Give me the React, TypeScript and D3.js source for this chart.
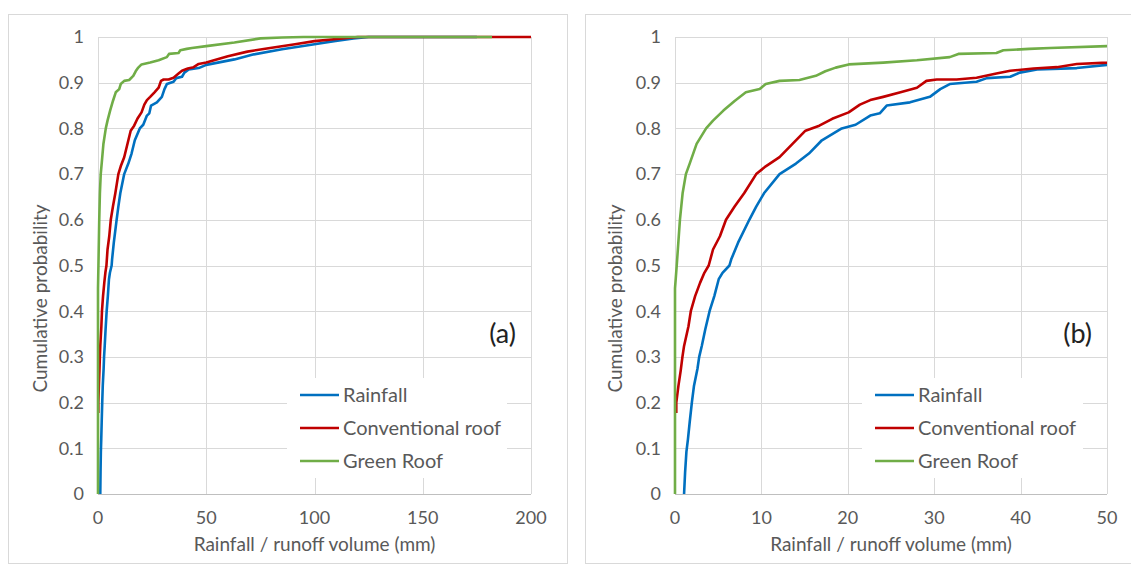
import React from "react";
import * as d3 from "d3";

// ---- data ----
const rainfallX = [1.05, 1.17, 1.32, 1.5, 1.7, 1.95, 2.2, 2.6, 2.8, 3.1, 3.5, 4.0, 4.55, 5.06, 5.5, 6.3, 6.5, 7.3, 8.6, 9.4, 10.3, 12.1, 14.0, 15.5, 17.0, 19.3, 20.9, 22.6, 23.7, 24.5, 27.2, 29.5, 30.7, 31.8, 34.9, 36.1, 38.8, 39.9, 41.9, 46.5, 50, 63, 72, 85, 100, 109, 118, 125, 175];
const rainfallP = [0, 0.048, 0.092, 0.12, 0.157, 0.2, 0.237, 0.274, 0.3, 0.324, 0.36, 0.4, 0.433, 0.47, 0.484, 0.5, 0.513, 0.55, 0.6, 0.629, 0.658, 0.7, 0.723, 0.745, 0.774, 0.8, 0.808, 0.828, 0.833, 0.85, 0.857, 0.869, 0.886, 0.897, 0.902, 0.91, 0.913, 0.922, 0.929, 0.932, 0.939, 0.951, 0.962, 0.973, 0.984, 0.991, 0.997, 1, 1];

const conventionalX = [0.15, 0.15, 0.4, 0.66, 0.86, 1.05, 1.56, 1.83, 2.33, 2.9, 3.4, 3.9, 4.4, 5.2, 5.9, 6.9, 8.0, 9.4, 10.5, 12.1, 13.6, 15.1, 16.7, 18.2, 20.1, 21.4, 22.6, 24.1, 26.1, 28, 29.1, 30.3, 32.6, 34.9, 37.2, 38.8, 41.5, 44.2, 46.5, 50, 60, 69, 78, 91, 100, 109, 120, 200];
const conventionalP = [0.177, 0.2, 0.237, 0.27, 0.3, 0.324, 0.367, 0.4, 0.433, 0.462, 0.484, 0.5, 0.535, 0.564, 0.6, 0.629, 0.658, 0.7, 0.717, 0.737, 0.766, 0.795, 0.806, 0.821, 0.835, 0.852, 0.862, 0.869, 0.879, 0.889, 0.904, 0.907, 0.907, 0.911, 0.92, 0.926, 0.931, 0.934, 0.941, 0.944, 0.958, 0.968, 0.975, 0.984, 0.991, 0.995, 1, 1];

const greenX = [0, 0, 0.2, 0.57, 0.88, 1.26, 1.7, 2.5, 3.6, 4.4, 5.6, 6.9, 8.2, 9.8, 10.5, 12.1, 14.4, 16.3, 17.4, 18.6, 20.1, 24.1, 28, 31.8, 32.8, 37.2, 38, 41, 43.4, 50, 63, 75, 85, 95, 182];
const greenP = [0, 0.45, 0.5, 0.6, 0.658, 0.7, 0.723, 0.766, 0.8, 0.817, 0.839, 0.86, 0.879, 0.886, 0.897, 0.904, 0.906, 0.915, 0.925, 0.933, 0.94, 0.944, 0.949, 0.956, 0.963, 0.965, 0.971, 0.974, 0.976, 0.98, 0.988, 0.997, 0.999, 1, 1];

const seriesNames = ["Rainfall", "Conventional roof", "Green Roof"];
const seriesColors = ["#0070C0", "#C00000", "#70AD47"];
const yTicks = [0, 0.1, 0.2, 0.3, 0.4, 0.5, 0.6, 0.7, 0.8, 0.9, 1];
const xTicksA = [0, 50, 100, 150, 200];
const xTicksB = [0, 10, 20, 30, 40, 50];
const panelLabels = ["(a)", "(b)"];
const xTitle = "Rainfall / runoff volume (mm)";
const yTitle = "Cumulative probability";

const FONT = "Lato, 'Open Sans', sans-serif";
const TXT = "#595959";
const GRID = "#d9d9d9";

type Pt = [number, number];
const zipPts = (xs: number[], ps: number[]): Pt[] => xs.map((x, i) => [x, ps[i]]);
const seriesData: Pt[][] = [
  zipPts(rainfallX, rainfallP),
  zipPts(conventionalX, conventionalP),
  zipPts(greenX, greenP),
];

interface PanelProps {
  id: string;
  frame: { x: number; y: number; w: number; h: number };
  left: number;
  right: number;
  top: number;
  bottom: number;
  xMax: number;
  xTicks: number[];
  label: string;
  yTitleX: number;
  legend: { x: number; y: number; w: number; h: number };
}

function Panel(p: PanelProps) {
  const x = d3.scaleLinear().domain([0, p.xMax]).range([p.left, p.right]);
  const y = d3.scaleLinear().domain([0, 1]).range([p.bottom, p.top]);
  const line = d3
    .line<Pt>()
    .x((d) => x(d[0]))
    .y((d) => y(d[1]))
    .curve(d3.curveLinear);
  const cx = (p.left + p.right) / 2;
  return (
    <g>
      <rect x={p.frame.x + 0.5} y={p.frame.y + 0.5} width={p.frame.w} height={p.frame.h} fill="#fff" stroke={GRID} strokeWidth={1} />
      <defs>
        <clipPath id={`clip-${p.id}`}>
          <rect x={p.left - 2} y={p.top - 3} width={p.right - p.left + 2} height={p.bottom - p.top + 5} />
        </clipPath>
      </defs>
      {yTicks.map((t) => (
        <line key={`h${t}`} x1={p.left} x2={p.right} y1={Math.round(y(t)) + 0.5} y2={Math.round(y(t)) + 0.5} stroke={t === 0 ? "#bfbfbf" : GRID} strokeWidth={1} />
      ))}
      {p.xTicks.map((t) => (
        <line key={`v${t}`} x1={Math.round(x(t)) + 0.5} x2={Math.round(x(t)) + 0.5} y1={p.top} y2={p.bottom} stroke={GRID} strokeWidth={1} />
      ))}
      {yTicks.map((t) => (
        <text key={`yl${t}`} x={p.left - 14} y={y(t)} dy="0.35em" textAnchor="end" fontFamily={FONT} fontSize={18} fill={TXT}>
          {String(t)}
        </text>
      ))}
      {p.xTicks.map((t) => (
        <text key={`xl${t}`} x={x(t)} y={p.bottom + 30} textAnchor="middle" fontFamily={FONT} fontSize={18} fill={TXT}>
          {String(t)}
        </text>
      ))}
      <text x={cx} y={p.bottom + 57} textAnchor="middle" fontFamily={FONT} fontSize={19} fill={TXT}>
        {xTitle}
      </text>
      <text
        transform={`translate(${p.yTitleX},${(p.top + p.bottom) / 2 + 33}) rotate(-90)`}
        textAnchor="middle"
        dy="0.35em"
        fontFamily={FONT}
        fontSize={19}
        fill={TXT}
      >
        {yTitle}
      </text>
      <g clipPath={`url(#clip-${p.id})`}>
        {seriesData.map((d, i) => (
          <path key={i} d={line(d) || ""} fill="none" stroke={seriesColors[i]} strokeWidth={2.6} strokeLinejoin="round" />
        ))}
      </g>
      <text x={p.right - 15} y={343} textAnchor="end" fontFamily={FONT} fontSize={27} fill="#222">
        {p.label}
      </text>
      <rect x={p.legend.x} y={p.legend.y} width={p.legend.w} height={p.legend.h} fill="#fff" />
      {seriesNames.map((n, i) => {
        const ly = p.legend.y + 17 + i * 33;
        return (
          <g key={n}>
            <line x1={p.legend.x + 13} x2={p.legend.x + 52} y1={ly} y2={ly} stroke={seriesColors[i]} strokeWidth={2.6} />
            <text x={p.legend.x + 56} y={ly} dy="0.35em" fontFamily={FONT} fontSize={20} fill={TXT}>
              {n}
            </text>
          </g>
        );
      })}
    </g>
  );
}

export default function App() {
  return (
    <svg width={1131} height={566} style={{ position: "absolute", left: 0, top: 0, background: "#fff" }}>
      <rect x={0} y={0} width={1131} height={566} fill="#fff" />
      <Panel
        id="a"
        frame={{ x: 8, y: 14, w: 559, h: 549 }}
        left={98}
        right={531}
        top={37}
        bottom={494}
        xMax={200}
        xTicks={xTicksA}
        label={panelLabels[0]}
        yTitleX={40}
        legend={{ x: 287, y: 378, w: 220, h: 100 }}
      />
      <Panel
        id="b"
        frame={{ x: 585, y: 14, w: 560, h: 549 }}
        left={675}
        right={1107}
        top={37}
        bottom={494}
        xMax={50}
        xTicks={xTicksB}
        label={panelLabels[1]}
        yTitleX={615}
        legend={{ x: 862, y: 378, w: 221, h: 100 }}
      />
    </svg>
  );
}
